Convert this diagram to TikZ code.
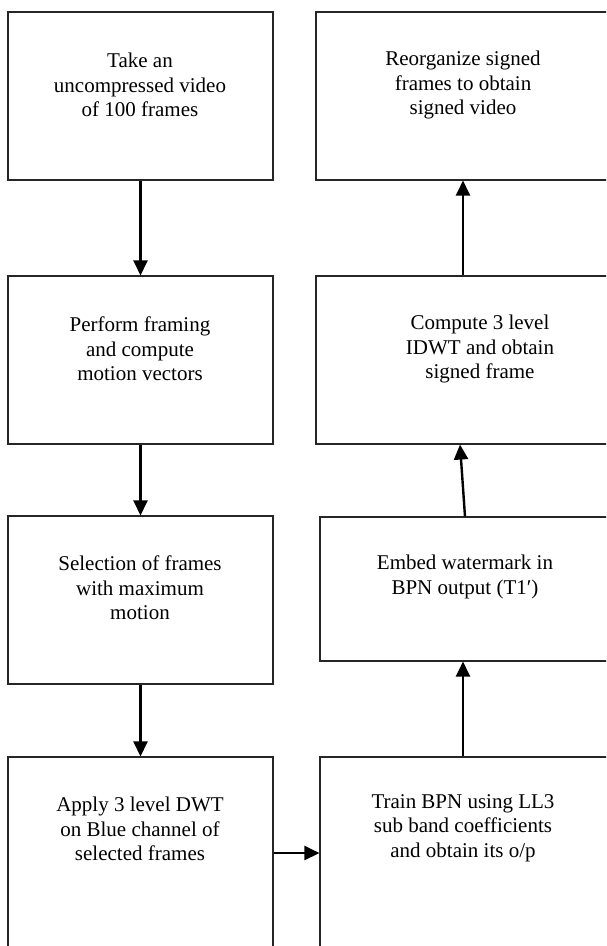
\documentclass[tikz,border=0pt]{standalone}
\usepackage{fontspec}
\setmainfont{Liberation Serif}
\usetikzlibrary{arrows.meta,calc}
\begin{document}
\begin{tikzpicture}[x=1pt,y=-1pt,
  box/.style={draw=black!85, line width=1.1pt, rectangle, inner sep=0pt},
  txt/.style={align=center, font=\fontsize{21}{24.5}\selectfont, inner sep=0pt},
  flow/.style={line width=2.4pt, -{Triangle[length=15pt,width=14pt]}}]
\useasboundingbox (0,0) rectangle (606,946);
\clip (0,0) rectangle (606,946);
% left column
\node[box, minimum width=265, minimum height=168] (b1) at (140.5,96) {};
\node[box, minimum width=265, minimum height=168] (b2) at (140.5,360) {};
\node[box, minimum width=265, minimum height=168] (b3) at (140.5,600) {};
\node[box, minimum width=265, minimum height=192] (b4) at (140.5,853) {};
% right column
\node[box, minimum width=320, minimum height=192] (b5) at (480,853) {};
\node[box, minimum width=320, minimum height=144] (b6) at (480,589) {};
\node[box, minimum width=324, minimum height=168] (b7) at (478,360) {};
\node[box, minimum width=324, minimum height=168] (b8) at (478,96) {};
% texts
\node[txt] (t1) at (140,85) {Take an\\uncompressed video\\of 100 frames};
\node[txt] (t2) at (140,349) {Perform framing\\and compute\\motion vectors};
\node[txt] (t3) at (140,588) {Selection of frames\\with maximum\\motion};
\node[txt] (t4) at (140,829) {Apply 3 level DWT\\on Blue channel of\\selected frames};
\node[txt] (t5) at (463,828) {Train BPN using LL3\\sub band coefficients\\and obtain its o/p};
\node[txt] (t6) at (465,577) {Embed watermark in\\BPN output (T1′)};
\node[txt] (t7) at (480,349) {Compute 3 level\\IDWT and obtain\\signed frame};
\node[txt] (t8) at (463,85) {Reorganize signed\\frames to obtain\\signed video};
% connectors
\draw[flow] (b1.south) -- (b2.north);
\draw[flow] (b2.south) -- (b3.north);
\draw[flow] (b3.south) -- (b4.north);
\draw[flow] (b4.east) -- (b5.west);
\draw[flow] (b5.north -| t5) -- (b6.south -| t5);
\draw[flow] (b6.north -| t6) -- ($(b7.south -| t6)+(-5,0)$);
\draw[flow] (b7.north -| t8) -- (b8.south -| t8);
\end{tikzpicture}
\end{document}
